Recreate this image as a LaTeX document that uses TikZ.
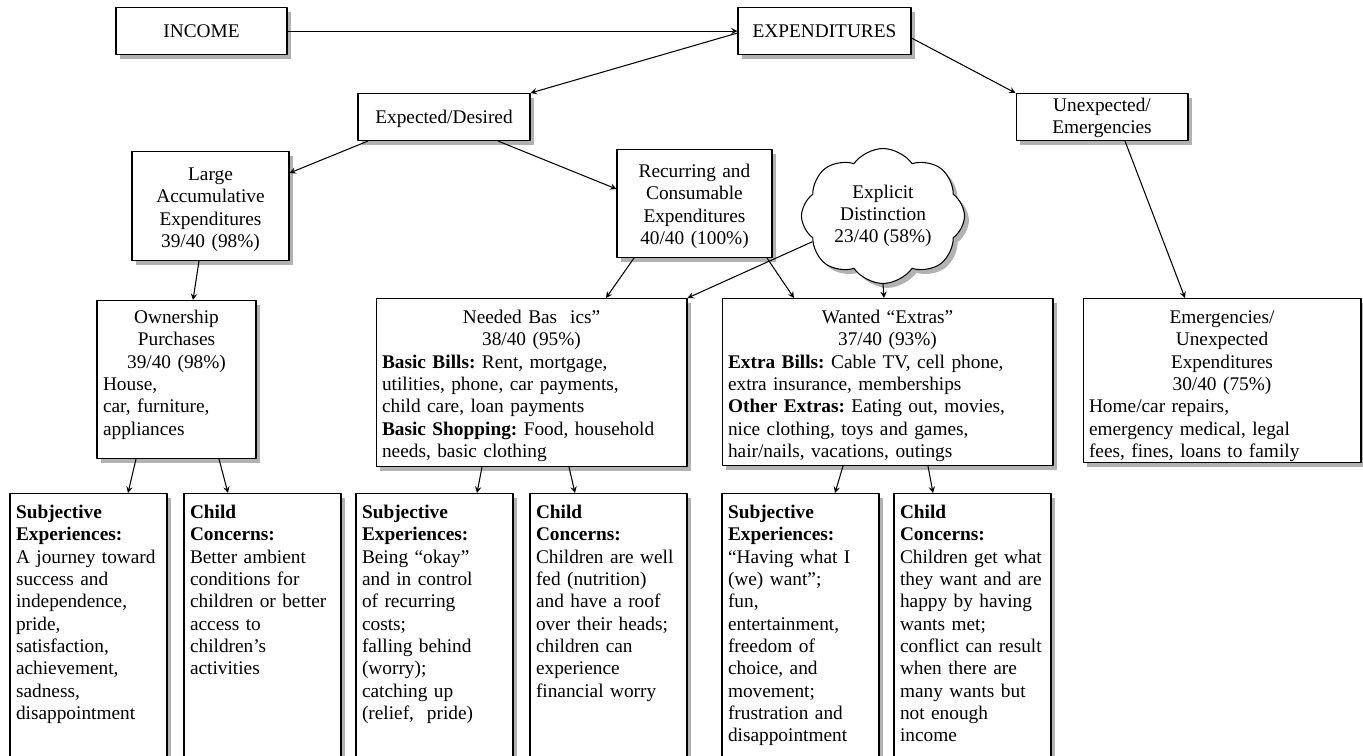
\documentclass[tikz,border=0pt]{standalone}
\usepackage{fontspec}
\setmainfont{Liberation Serif}
\usetikzlibrary{shapes.symbols,shadows}
\frenchspacing
\tikzset{
  shade box/.style={drop shadow={shadow xshift=2.5pt,shadow yshift=-2.5pt,opacity=0.3,fill=black}},
  box/.style={draw,fill=white,line width=0.6pt,inner xsep=0.12cm,inner ysep=0.08cm,shade box,
    font=\fontsize{11}{12.7}\selectfont,anchor=north},
  topbox/.style={box,align=center,text height=0.52cm,text depth=0.26cm},
  lowbox/.style={box,align=left,text width=2.9cm,text height=0.42cm,text depth=4.96cm},
}
\begin{document}
\begin{tikzpicture}[x=0.02cm,y=-0.02cm,>=stealth,line join=round,line width=0.6pt]
\useasboundingbox (0,0) rectangle (1363,755);
\clip (0,0) rectangle (1363,755);
% first two levels
\node[topbox,text width=3.18cm] (income) at (201.5,7) {INCOME};
\node[topbox,text width=3.22cm] (expend) at (824.5,7) {EXPENDITURES};
\node[topbox,text width=3.2cm] (expd) at (444,93) {Expected/Desired};
\node[box,align=center,text width=3.2cm,text height=0.28cm,text depth=0.5cm] (unexp) at (1102,93) {Unexpected/\\Emergencies};
% third level
\node[box,align=center,text width=2.9cm,text height=0.5cm,text depth=1.52cm] (large) at (210.5,151) {Large\\Accumulative\\Expenditures\\39/40 (98\%)};
\node[box,align=center,text width=2.86cm,text height=0.48cm,text depth=1.52cm] (recur) at (694.5,149) {Recurring and\\Consumable\\Expenditures\\40/40 (100\%)};
\node[cloud,draw,fill=white,shade box,cloud puffs=8,cloud puff arc=110,cloud ignores aspect,
  minimum width=3.2cm,minimum height=2.7cm,align=center,font=\fontsize{11}{12.7}\selectfont] (cloud) at (883,216)
  {Explicit\\Distinction\\23/40 (58\%)};
% fourth level
\node[box,align=left,text width=2.94cm,text height=0.38cm,text depth=2.62cm] (own) at (176.5,300)
  {{\centering Ownership\\Purchases\\39/40 (98\%)\par}House,\\car, furniture,\\appliances};
\node[box,align=left,text width=5.98cm,text height=0.42cm,text depth=2.78cm] (needed) at (531.5,298)
  {{\centering Needed Bas\ \ ics”\\38/40 (95\%)\par}\textbf{Basic Bills:} Rent, mortgage,\\utilities, phone, car payments,\\child care, loan payments\\\textbf{Basic Shopping:} Food, household\\needs, basic clothing};
\node[box,align=left,text width=6.38cm,text height=0.42cm,text depth=2.76cm] (wanted) at (887.5,298)
  {{\centering Wanted “Extras”\\37/40 (93\%)\par}\textbf{Extra Bills:} Cable TV, cell phone,\\extra insurance, memberships\\\textbf{Other Extras:} Eating out, movies,\\nice clothing, toys and games,\\hair/nails, vacations, outings};
\node[box,align=left,text width=5.32cm,text height=0.42cm,text depth=2.7cm] (emerg) at (1222,298)
  {{\centering Emergencies/\\Unexpected\\Expenditures\\30/40 (75\%)\par}Home/car repairs,\\emergency medical, legal\\fees, fines, loans to family};
% bottom row
\node[lowbox] (subj1) at (88.5,493) {\textbf{Subjective\\Experiences:}\\A journey toward\\success and\\independence,\\pride,\\satisfaction,\\achievement,\\sadness,\\disappointment};
\node[lowbox] (child1) at (262.5,493) {\textbf{Child\\Concerns:}\\Better ambient\\conditions for\\children or better\\access to\\children’s\\activities};
\node[lowbox] (subj2) at (434.5,493) {\textbf{Subjective\\Experiences:}\\Being “okay”\\and in control\\of recurring\\costs;\\falling behind\\(worry);\\catching up\\(relief,\ \ pride)};
\node[lowbox] (child2) at (608.5,493) {\textbf{Child\\Concerns:}\\Children are well\\fed (nutrition)\\and have a roof\\over their heads;\\children can\\experience\\financial worry};
\node[lowbox] (subj3) at (800.5,493) {\textbf{Subjective\\Experiences:}\\“Having what I\\(we) want”;\\fun,\\entertainment,\\freedom of\\choice, and\\movement;\\frustration and\\disappointment};
\node[lowbox] (child3) at (972.5,493) {\textbf{Child\\Concerns:}\\Children get what\\they want and are\\happy by having\\wants met;\\conflict can result\\when there are\\many wants but\\not enough\\income};
% connectors
\draw[->] (income.east) -- (expend.west);
\draw[->] (expend.west |- 0,33) -- (expd.north east);
\draw[->] (expend.east |- 0,38) -- (unexp.north west);
\draw[->] (expd.south -| 368,0) -- (large.east |- 0,173);
\draw[->] (expd.south -| 498,0) -- (recur.west |- 0,189);
\draw[->] (large.south -| 199,0) -- (own.north -| 193,0);
\draw[->] (recur.south -| 634,0) -- (needed.north -| 606,0);
\draw[->] (cloud.200) -- (needed.north east);
\draw[->] (recur.south -| 767,0) -- (wanted.north -| 794,0);
\draw[->] (cloud.south) -- (wanted.north -| 884,0);
\draw[->] (unexp.south -| 1125,0) -- (emerg.north -| 1185,0);
\draw[->] (own.south -| 136,0) -- (subj1.north -| 128,0);
\draw[->] (own.south -| 219,0) -- (child1.north -| 228,0);
\draw[->] (needed.south -| 482,0) -- (subj2.north -| 477,0);
\draw[->] (needed.south -| 569,0) -- (child2.north -| 575,0);
\draw[->] (wanted.south -| 843,0) -- (subj3.north -| 835,0);
\draw[->] (wanted.south -| 928,0) -- (child3.north -| 933,0);
\end{tikzpicture}
\end{document}
